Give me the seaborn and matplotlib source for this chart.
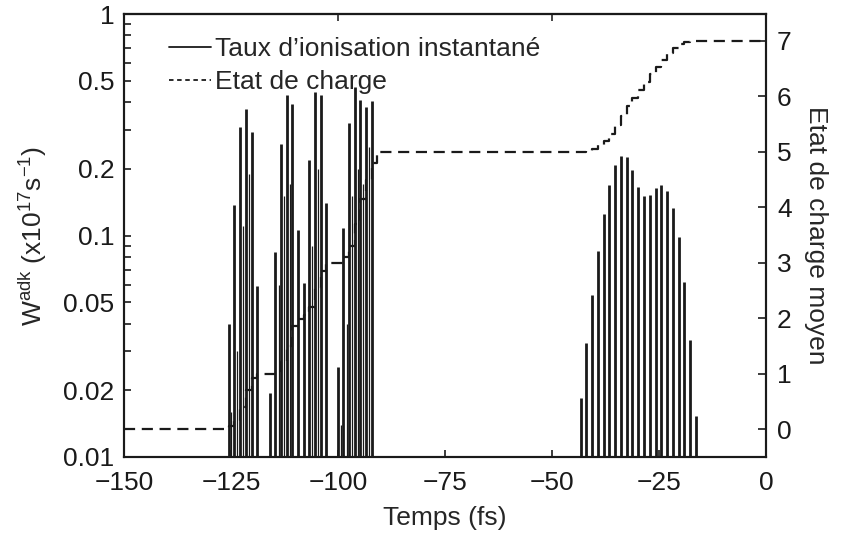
import numpy as np
import pandas as pd
import matplotlib
matplotlib.use("Agg")
from matplotlib import pyplot as plt
from matplotlib.lines import Line2D
import seaborn as sns

# spike times (fs) and peak rates (x1e17 s^-1)
t_spikes = [-125.5, -124.2, -122.9, -121.5, -120.2, -118.9,
            -116.0, -114.7, -113.4, -112.0, -110.7, -109.4, -108.0, -106.7, -105.4, -104.0, -102.7,
            -100.1, -98.8, -97.4, -96.1, -94.8, -93.4, -92.1,
            -43.3, -42.0, -40.6, -39.3, -37.9, -36.6, -35.2, -33.9, -32.5, -31.2, -29.8,
            -28.5, -27.1, -25.8, -24.5, -23.1, -21.8, -20.4, -19.1, -17.7, -16.4]
w_spikes = [0.040, 0.137, 0.309, 0.372, 0.293, 0.059,
            0.0194, 0.0845, 0.259, 0.431, 0.392, 0.106, 0.061, 0.219, 0.446, 0.431, 0.140,
            0.0255, 0.108, 0.322, 0.469, 0.409, 0.380, 0.405,
            0.0184, 0.0326, 0.0539, 0.0854, 0.125, 0.169, 0.208, 0.229, 0.225, 0.198, 0.166,
            0.150, 0.152, 0.164, 0.169, 0.159, 0.133, 0.098, 0.0615, 0.0338, 0.0153]

# weaker sub-peaks in between the main ones (first three bursts)
t_sub = [-124.9, -123.5, -122.2, -120.9, -113.9, -112.7, -111.3, -106.1, -104.7, -99.4, -97.9, -96.7, -95.4, -94.1, -92.8]
w_sub = [0.016, 0.030, 0.110, 0.190, 0.060, 0.150, 0.170, 0.090, 0.200, 0.014, 0.040, 0.150, 0.200, 0.170, 0.250]

# mean charge state (step after each spike)
t_charge = [-150, -125.5, -124.2, -122.9, -121.5, -120.2, -118.9,
            -116.0, -114.7, -113.4, -112.0, -110.7, -109.4, -108.0, -106.7, -105.4, -104.0, -102.7,
            -100.1, -98.8, -97.4, -96.1, -94.8, -93.4, -92.1, -90.9,
            -43.3, -42.0, -40.6, -39.3, -37.9, -36.6, -35.2, -33.9, -32.5, -31.2, -29.8,
            -28.5, -27.1, -25.8, -24.5, -23.1, -21.8, -20.4, -19.1, -17.7, -16.4, 0]
q_charge = [0.0, 0.05, 0.15, 0.4, 0.7, 0.92, 1.0,
            1.0, 1.05, 1.2, 1.5, 1.85, 1.98, 2.05, 2.2, 2.55, 2.85, 3.0,
            3.0, 3.1, 3.3, 3.7, 4.15, 4.5, 4.8, 5.0,
            5.0, 5.02, 5.06, 5.12, 5.2, 5.32, 5.48, 5.65, 5.82, 5.98, 6.12,
            6.26, 6.4, 6.53, 6.66, 6.78, 6.88, 6.95, 6.98, 7.0, 7.0, 7.0]

sns.set_theme(style="ticks")
fam = ["Liberation Sans Narrow", "Liberation Sans", "DejaVu Sans"]
plt.rcParams["font.family"] = fam
plt.rcParams["mathtext.default"] = "regular"
plt.rcParams["axes.linewidth"] = 1.5

fs = 19
fig = plt.figure(figsize=(8.5, 5.39), dpi=100)
ax = fig.add_axes([124/850, 82/539, 642/850, 443/539])
ax2 = ax.twinx()

ax.vlines(t_spikes, 1e-3, w_spikes, color="k", lw=2.0)
ax.vlines(t_sub, 1e-3, w_sub, color="k", lw=0.9)
ax.set_yscale("log")
ax.set_ylim(0.01, 1)
ax.set_xlim(-150, 0)

cdf = pd.DataFrame({"t": t_charge, "q": q_charge})
sns.lineplot(data=cdf, x="t", y="q", ax=ax2, color="k", lw=1.6,
             linestyle=(0, (5, 3)), drawstyle="steps-post",
             estimator=None, sort=False)
ax2.set_ylim(-0.505, 7.487)
ax2.set_yticks(range(8))

ax.set_yticks([0.01, 0.02, 0.05, 0.1, 0.2, 0.5, 1])
ax.set_yticklabels(["0.01", "0.02", "0.05", "0.1", "0.2", "0.5", "1"])
ax.set_xticks([-150, -125, -100, -75, -50, -25, 0])
ax.set_xticklabels(["\u2212150", "\u2212125", "\u2212100", "\u221275", "\u221250", "\u221225", "0"])
ax.tick_params(axis="both", which="both", direction="in", labelsize=fs, width=1.2, length=5,
               colors="k")
ax.tick_params(axis="x", pad=10)
ax.tick_params(axis="y", pad=7)
ax.tick_params(axis="y", which="minor", length=5)
ax.tick_params(axis="x", which="minor", bottom=False)
ax2.tick_params(axis="y", direction="in", labelsize=fs, width=1.2, length=6, pad=8, colors="k")

top = ax.secondary_xaxis("top")
top.set_xticks([-100, -50])
top.tick_params(direction="in", length=5, width=1.2, labeltop=False)

for a in (ax, ax2):
    for s in a.spines.values():
        s.set_linewidth(1.5)
        s.set_color("k")

ax.set_xlabel("Temps (fs)", fontsize=fs, labelpad=8)
ax.set_ylabel("W$^{adk}$ (x10$^{17}$s$^{-1}$)", fontsize=fs, labelpad=10)
ax2.set_ylabel("Etat de charge moyen", fontsize=fs, rotation=-90, labelpad=26)

handles = [Line2D([], [], color="k", lw=1.3),
           Line2D([], [], color="k", lw=1.3, linestyle=(0, (2.5, 2)))]
ax.legend(handles, ["Taux d\u2019ionisation instantan\u00e9", "Etat de charge"],
          loc="upper left", bbox_to_anchor=(0.07, 0.948), frameon=False,
          fontsize=fs, handlelength=1.6, handletextpad=0.15, labelspacing=0.34,
          borderpad=0, borderaxespad=0)

fig.savefig("out.png", dpi=100)
